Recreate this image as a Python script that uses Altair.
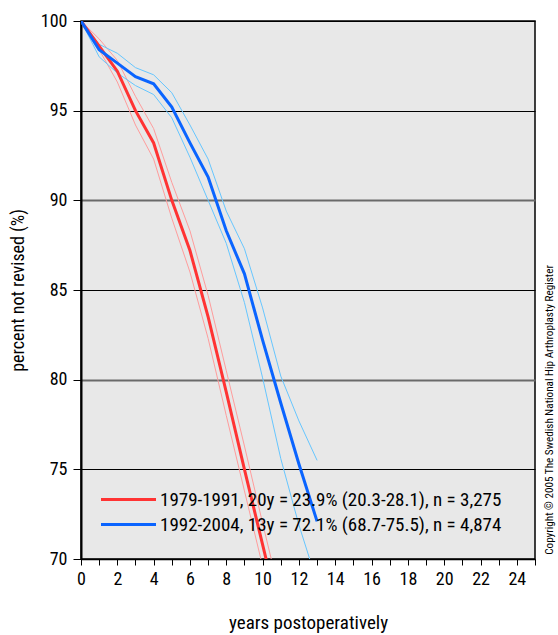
import altair as alt
import pandas as pd

FONT = "Roboto Condensed"

label_red = "1979-1991, 20y = 23.9% (20.3-28.1), n = 3,275"
label_blue = "1992-2004, 13y = 72.1% (68.7-75.5), n = 4,874"
copyright_text = "Copyright © 2005 The Swedish National Hip Arthroplasty Register"

years_red = [0, 1, 2, 3, 4, 5, 6, 7, 8, 9, 10, 11]
red_main = [100, 98.6, 97.2, 95.0, 93.2, 90.0, 87.2, 83.5, 79.3, 75.0, 70.8, 66.6]
red_upper = [100, 99.0, 97.8, 95.8, 94.0, 91.0, 88.3, 84.7, 80.5, 76.3, 72.0, 67.8]
red_lower = [100, 98.4, 96.6, 94.2, 92.3, 89.0, 86.0, 82.3, 78.0, 73.8, 69.6, 65.4]

years_blue = [0, 1, 2, 3, 4, 5, 6, 7, 8, 9, 10, 11, 12, 13]
blue_main = [100, 98.4, 97.65, 96.9, 96.5, 95.2, 93.2, 91.3, 88.3, 85.9, 82.2, 78.7, 75.3, 72.1]
blue_upper = [100, 98.7, 98.2, 97.4, 97.0, 96.0, 94.2, 92.3, 89.4, 87.3, 84.0, 80.2, 77.7, 75.5]
blue_lower = [100, 98.0, 97.1, 96.4, 95.9, 94.6, 92.4, 90.0, 87.6, 84.3, 80.1, 75.6, 71.9, 68.7]

main_rows, ci_rows = [], []
for yr, m, u, l in zip(years_red, red_main, red_upper, red_lower):
    main_rows.append({"year": yr, "value": m, "series": label_red})
    ci_rows.append({"year": yr, "value": u, "series": label_red, "bound": "upper"})
    ci_rows.append({"year": yr, "value": l, "series": label_red, "bound": "lower"})
for yr, m, u, l in zip(years_blue, blue_main, blue_upper, blue_lower):
    main_rows.append({"year": yr, "value": m, "series": label_blue})
    ci_rows.append({"year": yr, "value": u, "series": label_blue, "bound": "upper"})
    ci_rows.append({"year": yr, "value": l, "series": label_blue, "bound": "lower"})

main_df = pd.DataFrame(main_rows)
ci_df = pd.DataFrame(ci_rows)

x_enc = alt.X(
    "year:Q",
    scale=alt.Scale(domain=[0, 25], nice=False),
    axis=alt.Axis(
        values=list(range(26)),
        labelExpr="datum.value % 2 == 0 && datum.value < 25 ? datum.label : ''",
        title="years postoperatively",
        grid=False,
        tickSize=6,
        tickColor="black",
        domainColor="black",
        domainWidth=1.5,
        labelFont=FONT,
        labelFontSize=18,
        labelColor="black",
        labelPadding=5,
        titleFont=FONT,
        titleFontSize=19,
        titleFontWeight="normal",
        titleColor="black",
        titlePadding=25,
        labelFlush=False,
        labelOverlap=False,
    ),
)

y_enc = alt.Y(
    "value:Q",
    scale=alt.Scale(domain=[70, 100], nice=False, zero=False),
    axis=alt.Axis(
        values=[70, 75, 80, 85, 90, 95, 100],
        title="percent not revised (%)",
        grid=True,
        gridColor={"condition": {"test": "datum.value === 90 || datum.value === 80", "value": "#6a6a6a"}, "value": "black"},
        gridWidth={"condition": {"test": "datum.value === 90 || datum.value === 80", "value": 2}, "value": 1.2},
        gridOpacity=1,
        tickSize=8,
        tickColor="black",
        domainColor="black",
        domainWidth=2,
        labelFont=FONT,
        labelFontSize=18,
        labelColor="black",
        labelPadding=6,
        titleFont=FONT,
        titleFontSize=18,
        titleFontWeight="normal",
        titleColor="black",
        titlePadding=13,
        labelFlush=False,
    ),
)

ci = alt.Chart(ci_df).mark_line(strokeWidth=1, clip=True).encode(
    x=x_enc,
    y=y_enc,
    color=alt.Color(
        "series:N",
        scale=alt.Scale(domain=[label_red, label_blue], range=["#ff9c9c", "#66c6ff"]),
        legend=None,
    ),
    detail="bound:N",
)

main = alt.Chart(main_df).mark_line(strokeWidth=3, clip=True).encode(
    x=x_enc,
    y=y_enc,
    color=alt.Color(
        "series:N",
        scale=alt.Scale(domain=[label_red, label_blue], range=["#ff3333", "#0a64ff"]),
        legend=alt.Legend(
            orient="none",
            legendX=16,
            legendY=469,
            title=None,
            symbolType="M-1,0L9,0",
            symbolSize=121,
            symbolStrokeWidth=3,
            labelFont=FONT,
            labelFontSize=19,
            labelColor="black",
            labelOffset=44,
            labelLimit=0,
            rowPadding=5,
            padding=0,
        ),
    ),
)

note = alt.Chart(pd.DataFrame({"t": [copyright_text]})).mark_text(
    angle=270, font=FONT, fontSize=11.2, color="black", align="center", baseline="middle"
).encode(
    text="t:N",
    x=alt.value(469),
    y=alt.value(389),
)

chart = (
    alt.layer(ci, main, note)
    .resolve_scale(color="independent")
    .properties(
        width=454,
        height=538,
        autosize=alt.AutoSizeParams(type="none"),
        padding={"left": 81, "top": 21, "right": 23, "bottom": 76},
        background="white",
    )
    .configure_view(stroke="black", strokeWidth=1.5, fill="#e8e8e8")
)

chart.save("out.html", embed_options={"renderer": "svg", "actions": False})
